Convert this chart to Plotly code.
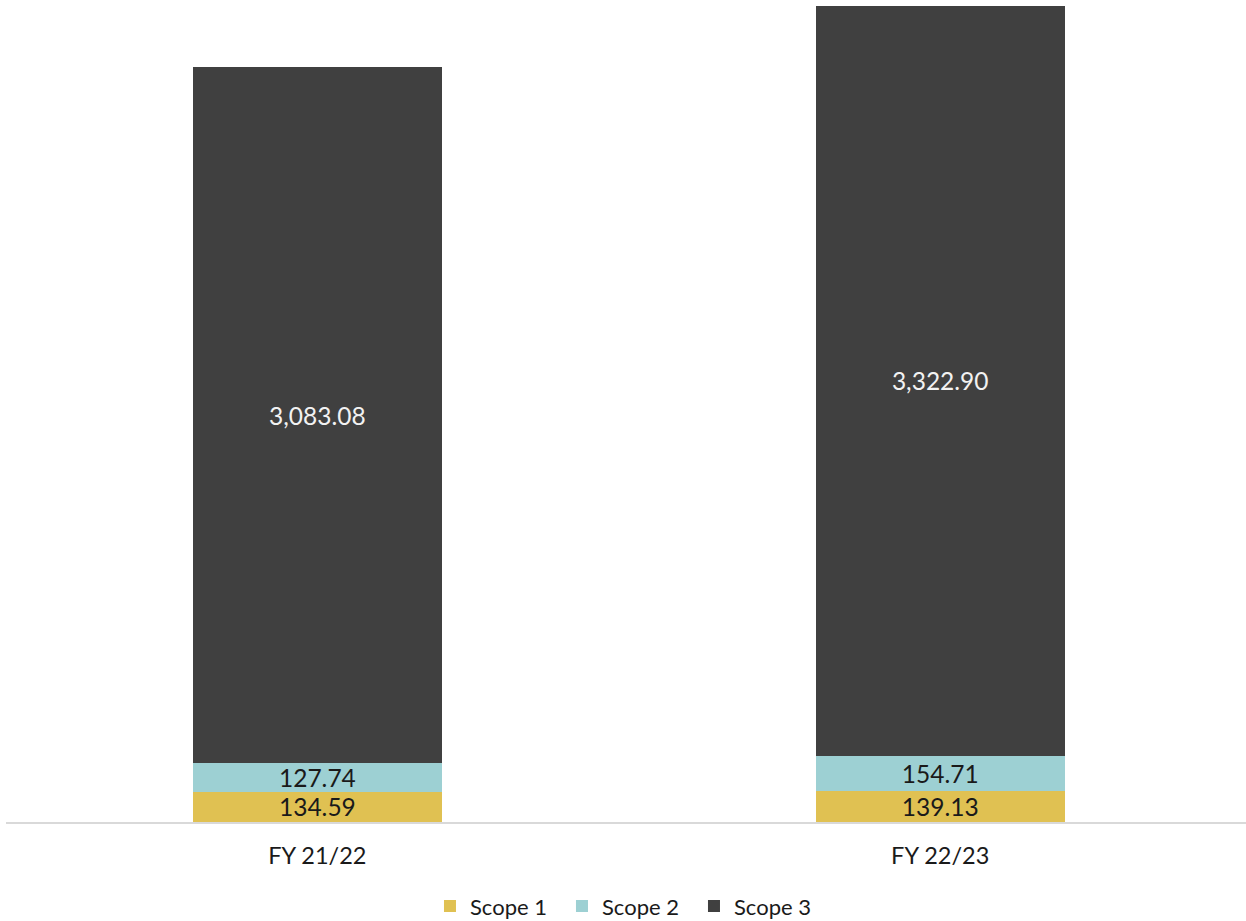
import plotly.graph_objects as go

# Emissions by scope per financial year
years = ["FY 21/22", "FY 22/23"]
scope1 = [134.59, 139.13]
scope2 = [127.74, 154.71]
scope3 = [3083.08, 3322.90]

series = [
    ("Scope 1", scope1, "#E0C152", "#1a1a1a"),
    ("Scope 2", scope2, "#9DD0D3", "#1a1a1a"),
    ("Scope 3", scope3, "#404040", "#f2f2f2"),
]

font_family = "Lato, 'Open Sans', sans-serif"

fig = go.Figure()
for name, vals, color, txtcolor in series:
    fig.add_trace(go.Bar(
        name=name,
        x=years,
        y=vals,
        width=0.4,
        marker=dict(color=color, line=dict(width=0)),
        text=[f"{v:,.2f}" for v in vals],
        textposition="inside",
        insidetextanchor="middle",
        constraintext="none",
        textfont=dict(family=font_family, size=24.5, color=txtcolor),
        hoverinfo="skip",
    ))

total_max = max(a + b + c for a, b, c in zip(scope1, scope2, scope3))

fig.update_layout(
    barmode="stack",
    width=1246,
    height=921,
    margin=dict(l=6, r=0, t=6, b=99),
    paper_bgcolor="white",
    plot_bgcolor="white",
    font=dict(family=font_family, color="#1a1a1a"),
    showlegend=True,
    legend=dict(
        orientation="h",
        x=0.504,
        xanchor="center",
        xref="container",
        y=0.016,
        yanchor="middle",
        yref="container",
        font=dict(size=22, color="#1a1a1a"),
        itemwidth=30,
        entrywidth=87,
        entrywidthmode="pixels",
        traceorder="normal",
    ),
    xaxis=dict(
        range=[-0.5, 1.491],
        automargin=False,
        showline=True,
        linecolor="#d9d9d9",
        linewidth=2,
        showgrid=False,
        zeroline=False,
        ticks="",
        ticklabelstandoff=12,
        tickfont=dict(size=23.5, color="#1a1a1a"),
    ),
    yaxis=dict(
        range=[0, total_max],
        visible=False,
        automargin=False,
        showgrid=False,
        zeroline=False,
    ),
)

fig.write_html("out.html")
